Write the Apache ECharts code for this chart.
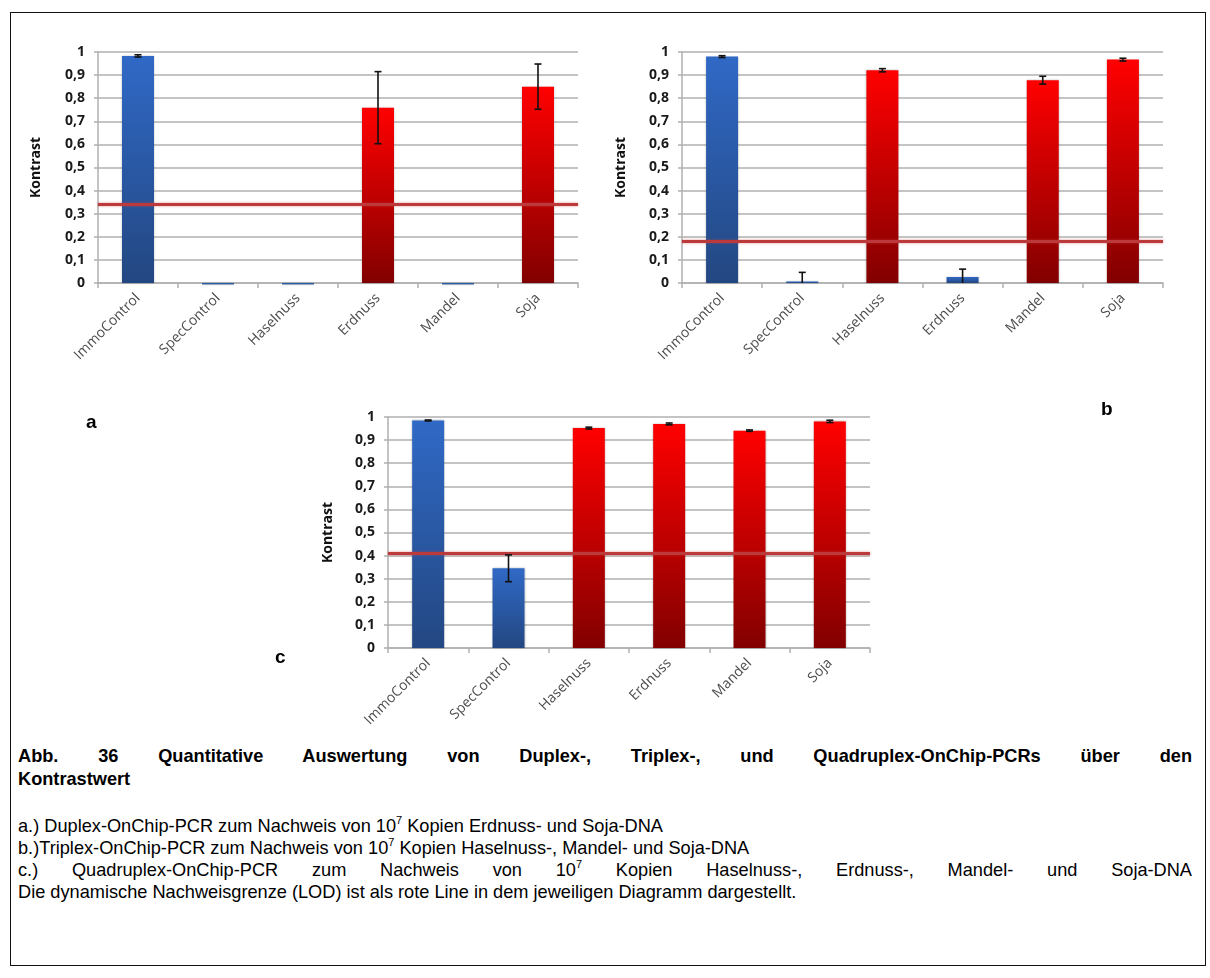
<!DOCTYPE html>
<html>
<head>
<meta charset="utf-8">
<script src="https://cdn.jsdelivr.net/npm/echarts@6/dist/echarts.min.js"></script>
<style>
  html, body { margin: 0; padding: 0; background: #fff; }
  #page { position: relative; width: 1210px; height: 978px; overflow: hidden; }
  #frame { position: absolute; left: 10px; top: 12px; width: 1196px; height: 954px; border: 1.5px solid #111; box-sizing: border-box; }
  #chart { position: absolute; left: 0; top: 0; width: 1210px; height: 740px; }
  #caption { position: absolute; left: 18px; top: 745px; width: 1174px; font-family: "Liberation Sans", Arial, sans-serif; color: #000; font-size: 18.2px; }
  #caption .title { font-weight: bold; line-height: 23px; }
  #caption .title .first { text-align: justify; text-align-last: justify; }
  #caption .body { margin-top: 24px; line-height: 22px; }
  #caption .body div { text-align: justify; }
  #caption sup { font-size: 11px; line-height: 0; vertical-align: 8px; }
</style>
</head>
<body>
<div id="page">
  <div id="frame"></div>
  <div id="chart"></div>
  <div id="caption">
    <div class="title">
      <div class="first">Abb. 36 Quantitative Auswertung von Duplex-, Triplex-, und Quadruplex-OnChip-PCRs über den</div>
      <div>Kontrastwert</div>
    </div>
    <div class="body">
      <div>a.) Duplex-OnChip-PCR zum Nachweis von 10<sup>7</sup> Kopien Erdnuss- und Soja-DNA</div>
      <div>b.)Triplex-OnChip-PCR zum Nachweis von 10<sup>7</sup> Kopien Haselnuss-, Mandel- und Soja-DNA</div>
      <div style="text-align-last: justify;">c.) Quadruplex-OnChip-PCR zum Nachweis von 10<sup>7</sup> Kopien Haselnuss-, Erdnuss-, Mandel- und Soja-DNA</div>
      <div>Die dynamische Nachweisgrenze (LOD) ist als rote Line in dem jeweiligen Diagramm dargestellt.</div>
    </div>
  </div>
</div>
<script>
// Probes on the chip
const categories = ['ImmoControl', 'SpecControl', 'Haselnuss', 'Erdnuss', 'Mandel', 'Soja'];

// a) Duplex: Erdnuss + Soja
const valuesA = [0.983, -0.006, -0.006, 0.759, -0.006, 0.850];
const errorsA = [0.005, 0, 0, 0.156, 0, 0.098];
const targetsA = ['Erdnuss', 'Soja'];
const lodA = 0.345;

// b) Triplex: Haselnuss + Mandel + Soja
const valuesB = [0.980, 0.007, 0.921, 0.026, 0.878, 0.967];
const errorsB = [0.004, 0.039, 0.007, 0.034, 0.017, 0.006];
const targetsB = ['Haselnuss', 'Mandel', 'Soja'];
const lodB = 0.184;

// c) Quadruplex: Haselnuss + Erdnuss + Mandel + Soja
const valuesC = [0.985, 0.345, 0.952, 0.970, 0.941, 0.981];
const errorsC = [0.002, 0.058, 0.004, 0.004, 0.003, 0.005];
const targetsC = ['Haselnuss', 'Erdnuss', 'Mandel', 'Soja'];
const lodC = 0.411;

const yTicks = { min: 0, max: 1, interval: 0.1 };
const axisTitle = 'Kontrast';

const panels = [
  { values: valuesA, errors: errorsA, targets: targetsA, lod: lodA, grid: { left: 98, top: 52, width: 480, height: 231 }, nameGap: 55 },
  { values: valuesB, errors: errorsB, targets: targetsB, lod: lodB, grid: { left: 682, top: 52, width: 481, height: 231 }, nameGap: 54 },
  { values: valuesC, errors: errorsC, targets: targetsC, lod: lodC, grid: { left: 388, top: 417, width: 482, height: 231 }, nameGap: 53 }
];

const uiFont = '"Open Sans", Lato, sans-serif';

const blueFill = new echarts.graphic.LinearGradient(0, 0, 0, 1, [
  { offset: 0, color: '#3069c6' },
  { offset: 1, color: '#234781' }
]);
const redFill = new echarts.graphic.LinearGradient(0, 0, 0, 1, [
  { offset: 0, color: '#ff0000' },
  { offset: 1, color: '#820000' }
]);

const gridLine = '#b0b0b0';

function errorBarRender(params, api) {
  const v = api.value(1);
  const e = api.value(2);
  if (!e) return null;
  const idx = api.value(0);
  const hi = api.coord([idx, v + e]);
  const lowVal = v - e;
  const lo = api.coord([idx, Math.max(lowVal, 0)]);
  const cap = 3.5;
  const style = { stroke: '#111', lineWidth: 1.6 };
  const children = [
    { type: 'line', shape: { x1: hi[0], y1: hi[1], x2: lo[0], y2: lo[1] }, style: style },
    { type: 'line', shape: { x1: hi[0] - cap, y1: hi[1], x2: hi[0] + cap, y2: hi[1] }, style: style }
  ];
  if (lowVal >= 0) {
    children.push({ type: 'line', shape: { x1: lo[0] - cap, y1: lo[1], x2: lo[0] + cap, y2: lo[1] }, style: style });
  }
  return { type: 'group', children: children };
}

const option = {
  animation: false,
  backgroundColor: 'transparent',
  grid: panels.map(p => Object.assign({ containLabel: false }, p.grid)),
  xAxis: panels.map((p, i) => ({
    type: 'category',
    gridIndex: i,
    data: categories,
    axisLine: { show: true, lineStyle: { color: gridLine, width: 1.5 } },
    axisTick: { show: true, length: 5, lineStyle: { color: gridLine, width: 1.5 } },
    axisLabel: {
      interval: 0,
      rotate: 45,
      margin: 13,
      color: '#4d4d4d',
      fontFamily: uiFont,
      fontSize: 14
    },
    splitLine: { show: false }
  })),
  yAxis: panels.map((p, i) => ({
    type: 'value',
    gridIndex: i,
    min: yTicks.min,
    max: yTicks.max,
    interval: yTicks.interval,
    name: axisTitle,
    nameLocation: 'middle',
    nameGap: p.nameGap,
    nameRotate: 90,
    nameTextStyle: {
      fontFamily: uiFont,
      fontWeight: 'bold',
      fontSize: 14,
      color: '#111'
    },
    axisLine: { show: true, lineStyle: { color: gridLine, width: 1.5 } },
    axisTick: { show: true, length: 4, lineStyle: { color: gridLine, width: 1.5 } },
    axisLabel: {
      margin: 13,
      color: '#1a1a1a',
      fontFamily: uiFont,
      fontWeight: 'bold',
      fontSize: 14,
      formatter: v => String(Math.round(v * 10) / 10).replace('.', ',')
    },
    splitLine: { show: true, lineStyle: { color: gridLine, width: 1.5 } }
  })),
  series: panels.flatMap((p, i) => [
    {
      type: 'bar',
      xAxisIndex: i,
      yAxisIndex: i,
      barWidth: 32,
      clip: false,
      data: p.values.map((v, k) => ({
        value: v,
        itemStyle: {
          color: p.targets.includes(categories[k]) ? redFill : blueFill,
          shadowBlur: 2,
          shadowColor: 'rgba(0,0,0,0.25)'
        }
      })),
      markLine: {
        silent: true,
        symbol: 'none',
        label: { show: false },
        z: 5,
        lineStyle: {
          color: '#bd3a3c',
          width: 3,
          type: 'solid',
          shadowBlur: 3,
          shadowColor: 'rgba(200,70,70,0.55)'
        },
        data: [{ yAxis: p.lod }]
      }
    },
    {
      type: 'custom',
      xAxisIndex: i,
      yAxisIndex: i,
      z: 6,
      renderItem: errorBarRender,
      encode: { x: 0, y: 1 },
      data: p.values.map((v, k) => [k, v, p.errors[k]])
    }
  ]),
  graphic: [
    { type: 'text', left: 86, top: 413, style: { text: 'a', font: 'bold 19px "Liberation Sans", Arial, sans-serif', fill: '#000' } },
    { type: 'text', left: 1101, top: 400, style: { text: 'b', font: 'bold 19px "Liberation Sans", Arial, sans-serif', fill: '#000' } },
    { type: 'text', left: 275, top: 648, style: { text: 'c', font: 'bold 19px "Liberation Sans", Arial, sans-serif', fill: '#000' } }
  ]
};

const chart = echarts.init(document.getElementById('chart'), null, { renderer: 'canvas' });
chart.setOption(option);
</script>
</body>
</html>
